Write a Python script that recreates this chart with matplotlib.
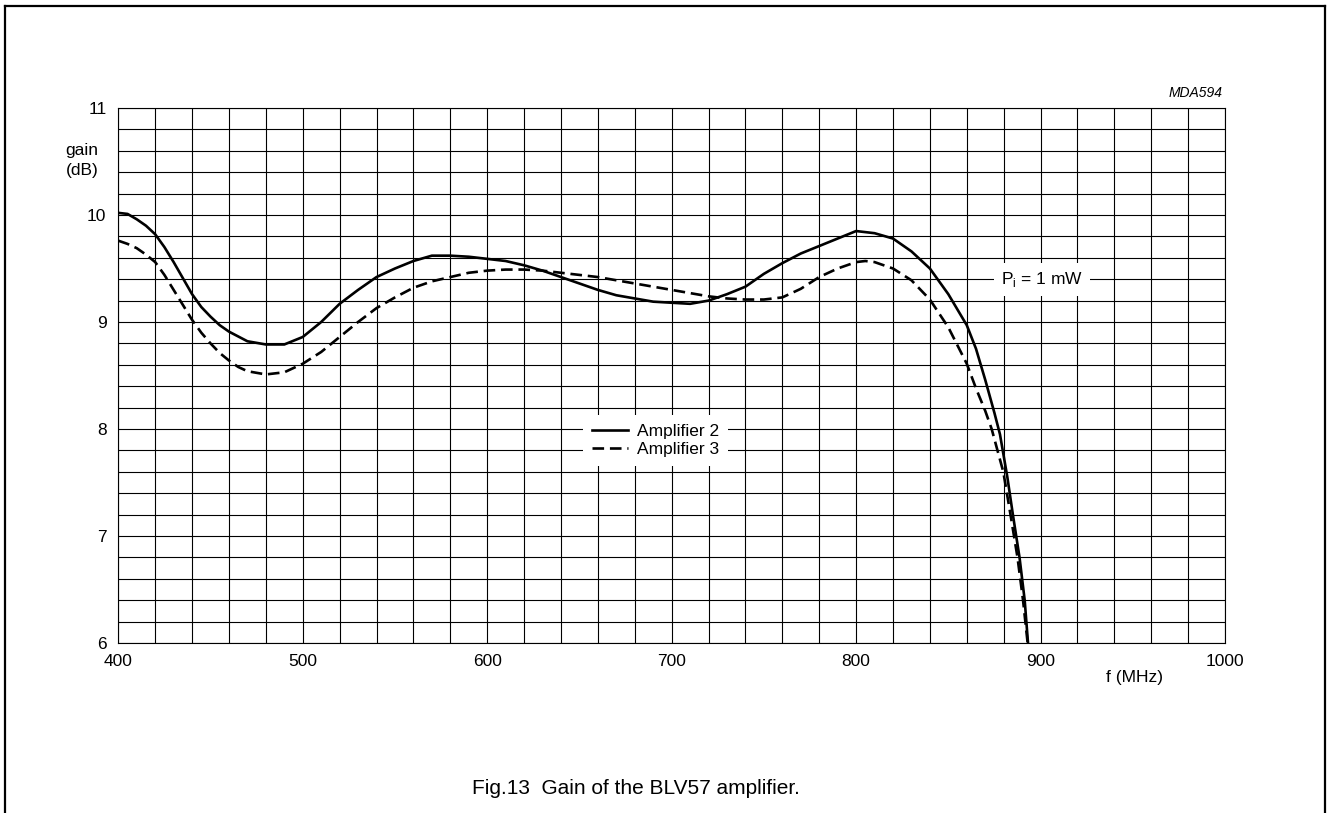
import matplotlib
matplotlib.use("Agg")
import matplotlib.pyplot as plt
from matplotlib.lines import Line2D
import numpy as np

plt.rcParams["font.family"] = ["Liberation Sans", "DejaVu Sans"]

# --- data ---
freq_amp2 = [400, 405, 410, 415, 420, 425, 430, 435, 440, 445, 450, 455, 460, 470,
             480, 490, 500, 510, 520, 530, 540, 550, 560, 570, 580, 590, 600, 610,
             620, 630, 640, 650, 660, 670, 680, 690, 700, 710, 720, 730, 740, 750,
             760, 770, 780, 790, 800, 810, 820, 830, 840, 850, 860, 865, 870, 875,
             878, 882, 885, 888.6, 891.4, 893.2]
gain_amp2 = [10.02, 10.01, 9.96, 9.90, 9.82, 9.70, 9.56, 9.41, 9.26, 9.14, 9.05,
             8.97, 8.91, 8.82, 8.79, 8.79, 8.86, 9.00, 9.17, 9.30, 9.42, 9.50, 9.57,
             9.62, 9.62, 9.61, 9.59, 9.57, 9.53, 9.48, 9.42, 9.36, 9.30, 9.25, 9.22,
             9.19, 9.18, 9.17, 9.20, 9.26, 9.33, 9.45, 9.55, 9.64, 9.71, 9.78, 9.85,
             9.83, 9.78, 9.66, 9.50, 9.26, 8.97, 8.75, 8.46, 8.15, 7.95, 7.55, 7.20,
             6.80, 6.40, 6.00]

freq_amp3 = [400, 405, 410, 415, 420, 425, 430, 435, 440, 445, 450, 455, 460, 465,
             470, 480, 490, 500, 510, 520, 530, 540, 550, 560, 570, 580, 590, 600,
             610, 620, 630, 640, 650, 660, 670, 680, 690, 700, 710, 720, 730, 740,
             750, 760, 770, 780, 790, 800, 805, 810, 820, 830, 840, 850, 860, 865,
             870, 873.5, 879.8, 883.7, 887.5, 890.5, 893]
gain_amp3 = [9.76, 9.73, 9.69, 9.63, 9.56, 9.44, 9.30, 9.16, 9.02, 8.90, 8.80, 8.71,
             8.64, 8.58, 8.54, 8.51, 8.53, 8.61, 8.72, 8.86, 9.00, 9.13, 9.23, 9.32,
             9.38, 9.42, 9.46, 9.48, 9.49, 9.49, 9.48, 9.46, 9.44, 9.42, 9.39, 9.36,
             9.33, 9.30, 9.27, 9.24, 9.22, 9.21, 9.21, 9.23, 9.31, 9.42, 9.50, 9.56,
             9.57, 9.56, 9.50, 9.39, 9.21, 8.95, 8.61, 8.38, 8.17, 8.00, 7.60, 7.20,
             6.80, 6.40, 6.00]

x_ticks = [400, 500, 600, 700, 800, 900, 1000]
y_ticks = [6, 7, 8, 9, 10, 11]

fig = plt.figure(figsize=(13.27, 8.13), dpi=100, facecolor="white")

# outer frame of the datasheet page (top, left, right)
fig.add_artist(Line2D([5 / 1327, 5 / 1327], [0, 1 - 6 / 813], color="black", lw=1.6))
fig.add_artist(Line2D([1325 / 1327, 1325 / 1327], [0, 1 - 6 / 813], color="black", lw=1.6))
fig.add_artist(Line2D([5 / 1327, 1325 / 1327], [1 - 6 / 813, 1 - 6 / 813], color="black", lw=1.6))

ax = fig.add_axes([118.3 / 1327, 1 - 643 / 813, (1225 - 118.3) / 1327, (643 - 108) / 813])
ax.set_xlim(400, 1000)
ax.set_ylim(6, 11)

# grid: 20 MHz by 0.2 dB
for xv in np.arange(400, 1001, 20):
    ax.axvline(xv, color="black", lw=0.8, zorder=1)
for yv in np.arange(6, 11.01, 0.2):
    ax.axhline(yv, color="black", lw=0.8, zorder=1)

for s in ax.spines.values():
    s.set_linewidth(0.8)

ax.plot(freq_amp2, gain_amp2, color="black", lw=1.9, zorder=3,
        solid_joinstyle="round", label="Amplifier 2")
ax.plot(freq_amp3, gain_amp3, color="black", lw=1.9, zorder=3,
        dashes=(4.4, 2.2), label="Amplifier 3")

ax.set_xticks(x_ticks)
ax.set_yticks(y_ticks)
ax.set_xticklabels([str(v) for v in x_ticks])
ax.set_yticklabels([str(v) for v in y_ticks])
ax.tick_params(length=0, labelsize=12.5)
ax.tick_params(axis="x", pad=8)
ax.tick_params(axis="y", pad=8.5)

leg = ax.legend(loc="center", bbox_to_anchor=(0.4854, 0.3785), fontsize=12.5,
                frameon=True, fancybox=False, edgecolor="none", framealpha=1,
                handlelength=2.1, handletextpad=0.5, labelspacing=0.2,
                borderpad=0.5)
leg.set_zorder(5)

ax.text(901, 9.4, r"P$_{\mathregular{i}}$ = 1 mW", fontsize=12.5, ha="center",
        va="center", zorder=5,
        bbox=dict(facecolor="white", edgecolor="none", pad=5))

fig.text(82 / 1327, 1 - 150 / 813, "gain", fontsize=12.5, ha="center", va="center")
fig.text(82 / 1327, 1 - 170 / 813, "(dB)", fontsize=12.5, ha="center", va="center")
fig.text(1135 / 1327, 1 - 677 / 813, "f (MHz)", fontsize=12.5, ha="center", va="center")
fig.text(1223 / 1327, 1 - 93 / 813, "MDA594", fontsize=10, style="italic",
         ha="right", va="center")
fig.text(636 / 1327, 1 - 788 / 813, "Fig.13  Gain of the BLV57 amplifier.",
         fontsize=15, ha="center", va="center")

fig.savefig("out.png", dpi=100, facecolor="white")
